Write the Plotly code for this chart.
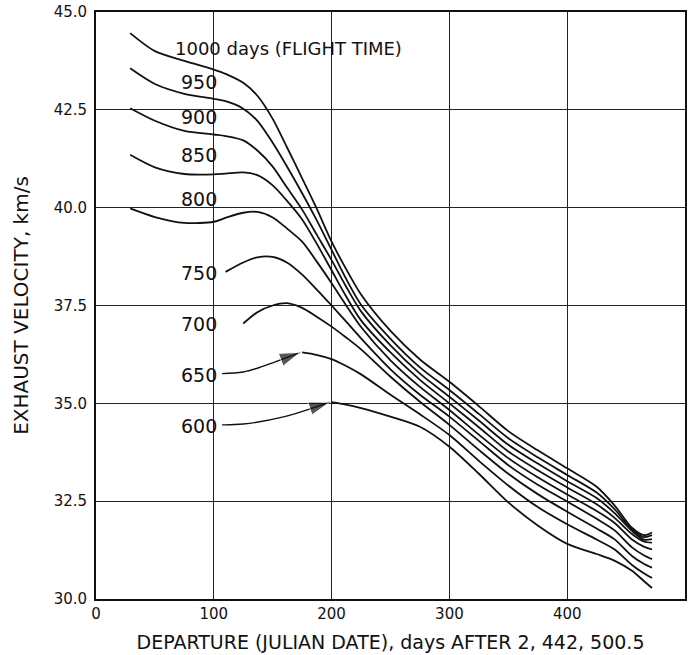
import plotly.graph_objects as go

# Departure dates (days after JD 2,442,500.5) at which the curves are tabulated
departure = [29, 50, 75, 100, 110, 125, 137, 150, 162, 175, 187, 200, 212,
             225, 250, 275, 300, 325, 350, 375, 400, 425, 440, 455, 465, 472]

# Exhaust velocity (km/s) for each flight time (days); None = not computed
v1000 = [44.46, 44.00, 43.75, 43.53, 43.42, 43.19, 42.86, 42.27, 41.55, 40.75, 40.00, 39.13, 38.45,
         37.78, 36.85, 36.12, 35.55, 34.93, 34.29, 33.80, 33.34, 32.87, 32.40, 31.82, 31.63, 31.70]
v950 = [43.56, 43.16, 42.91, 42.78, 42.72, 42.53, 42.22, 41.66, 41.06, 40.37, 39.70, 38.92, 38.20,
        37.52, 36.65, 35.92, 35.34, 34.73, 34.11, 33.62, 33.17, 32.72, 32.30, 31.78, 31.58, 31.63]
v900 = [42.54, 42.22, 41.96, 41.87, 41.83, 41.72, 41.46, 41.05, 40.52, 39.95, 39.33, 38.66, 38.00,
        37.35, 36.48, 35.76, 35.17, 34.56, 33.94, 33.46, 33.01, 32.58, 32.20, 31.74, 31.52, 31.53]
v850 = [41.35, 41.03, 40.86, 40.85, 40.87, 40.90, 40.83, 40.57, 40.18, 39.70, 39.10, 38.40, 37.75,
        37.12, 36.30, 35.60, 35.00, 34.39, 33.77, 33.29, 32.85, 32.42, 32.08, 31.66, 31.47, 31.44]
v800 = [39.98, 39.76, 39.61, 39.64, 39.74, 39.87, 39.89, 39.75, 39.47, 39.13, 38.64, 38.07, 37.52,
        36.95, 36.10, 35.42, 34.83, 34.20, 33.60, 33.11, 32.67, 32.25, 31.95, 31.52, 31.34, 31.27]
v750 = [None, None, None, None, 38.36, 38.60, 38.73, 38.74, 38.60, 38.29, 37.92, 37.50, 37.10,
        36.66, 35.87, 35.22, 34.66, 34.04, 33.42, 32.92, 32.49, 32.05, 31.76, 31.32, 31.12, 31.02]
v700 = [None, None, None, None, None, 37.04, 37.33, 37.50, 37.56, 37.44, 37.22, 36.96, 36.69,
        36.38, 35.68, 35.04, 34.45, 33.81, 33.20, 32.68, 32.23, 31.80, 31.53, 31.10, 30.90, 30.80]
v650 = [None, None, None, None, None, None, None, None, None, 36.30, 36.24, 36.13, 35.96,
        35.74, 35.22, 34.72, 34.19, 33.53, 32.90, 32.35, 31.91, 31.52, 31.27, 30.87, 30.66, 30.54]
v600 = [None, None, None, None, None, None, None, None, None, None, None, 35.03, 34.97,
        34.88, 34.66, 34.40, 33.89, 33.20, 32.47, 31.88, 31.41, 31.15, 30.98, 30.72, 30.46, 30.28]

flight_times = [1000, 950, 900, 850, 800, 750, 700, 650, 600]
series = [v1000, v950, v900, v850, v800, v750, v700, v650, v600]

# Curve label placement (data coordinates)
label_y = [44.08, 43.20, 42.32, 41.35, 40.23, 38.34, 37.03, 35.72, 34.41]
label_right_x = 104

x_ticks = [0, 100, 200, 300, 400, 500]
y_ticks = [30.0, 32.5, 35.0, 37.5, 40.0, 42.5, 45.0]

FONT = "DejaVu Sans"
INK = "#111111"

fig = go.Figure()

for ft, vals in zip(flight_times, series):
    fig.add_trace(go.Scatter(
        x=departure, y=vals, mode="lines", name=f"{ft} days",
        line=dict(color=INK, width=1.8, shape="spline", smoothing=0.8),
        connectgaps=False, showlegend=False, hoverinfo="x+y+name",
    ))

# Leader arrows for the two short curves, ending at each curve's first point
def first_point(vals):
    for xv, yv in zip(departure, vals):
        if yv is not None:
            return xv, yv

leaders = {650: [(107, 35.76), (125, 35.80), (142, 35.95)],
           600: [(107, 34.45), (125, 34.47), (160, 34.66)]}
for ft, pts in leaders.items():
    tx, ty = first_point(series[flight_times.index(ft)])
    xs = [p[0] for p in pts] + [tx - 1.5]
    ys = [p[1] for p in pts] + [ty]
    fig.add_trace(go.Scatter(
        x=xs, y=ys, mode="lines+markers",
        line=dict(color=INK, width=1.4, shape="spline"),
        marker=dict(symbol="arrow", angleref="previous", color=INK,
                    size=[0] * (len(xs) - 1) + [22]),
        showlegend=False, hoverinfo="skip",
    ))

# Curve labels
for i, (ft, ly) in enumerate(zip(flight_times, label_y)):
    if i == 0:
        fig.add_annotation(x=65, y=ly, text="1000 days (FLIGHT TIME)", showarrow=False,
                           xanchor="left", yanchor="middle",
                           font=dict(family=FONT, size=18, color=INK))
    else:
        fig.add_annotation(x=label_right_x, y=ly, text=str(ft), showarrow=False,
                           xanchor="right", yanchor="middle",
                           font=dict(family=FONT, size=19, color=INK))

axis_common = dict(
    showgrid=True, gridcolor="#222222", gridwidth=1,
    showline=True, linecolor=INK, linewidth=1.8, mirror=True,
    ticks="", zeroline=False, automargin=False,
    tickfont=dict(family=FONT, size=15, color=INK),
)

fig.update_xaxes(range=[0, 500], tickvals=x_ticks, ticktext=[str(t) for t in x_ticks],
                 title=dict(text="DEPARTURE (JULIAN DATE), days AFTER 2, 442, 500.5",
                            font=dict(family=FONT, size=19, color=INK), standoff=14),
                 **axis_common)
fig.update_yaxes(range=[30, 45], tickvals=y_ticks, ticktext=[f"{t:.1f}" for t in y_ticks],
                 title=dict(text="EXHAUST VELOCITY, km/s",
                            font=dict(family=FONT, size=20, color=INK), standoff=20),
                 ticklabelstandoff=4,
                 **axis_common)

fig.update_layout(
    width=694, height=655,
    margin=dict(l=96, r=9, t=12, b=56),
    paper_bgcolor="white", plot_bgcolor="white",
    font=dict(family=FONT, color=INK),
)

fig.write_html("out.html")
